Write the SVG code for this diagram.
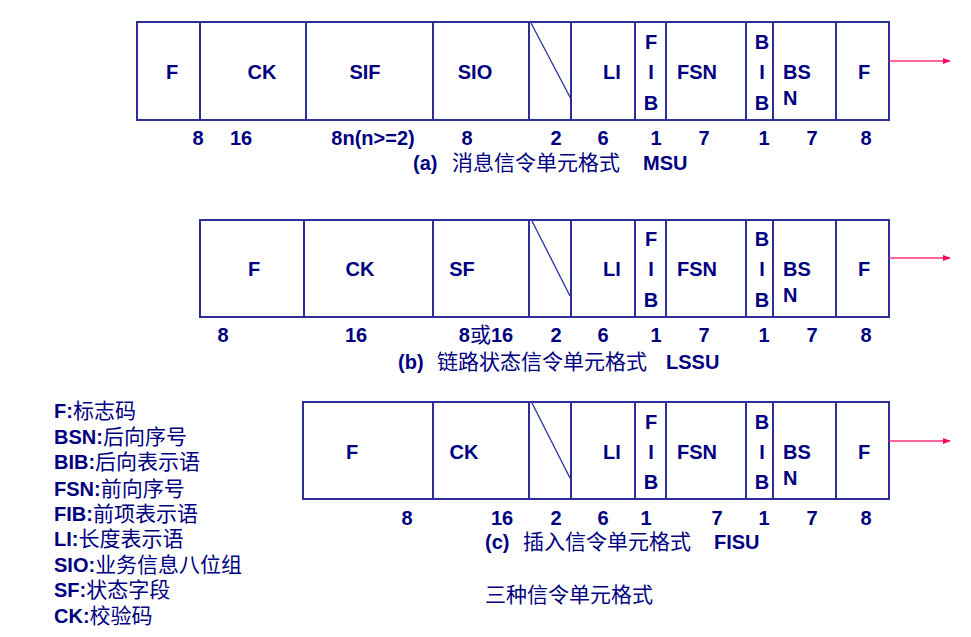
<svg xmlns="http://www.w3.org/2000/svg" width="971" height="637" viewBox="0 0 971 637">
<style>
.bg{fill:#ffffff}
.cell{fill:#ffffff;stroke:#2e2e9a;stroke-width:2}
.sl{stroke:#2e2e9a;stroke-width:1.3;fill:none}
.t{font-family:"Liberation Sans",Arial,sans-serif;font-weight:bold;font-size:20px;fill:#000080}
.m{text-anchor:middle}
.c{font-family:"Noto Sans CJK SC","Noto Sans CJK JP",sans-serif;font-weight:normal;font-size:21px;fill:#000080}
.arr{stroke:#ff3380;stroke-width:1.5;fill:none}
</style>
<defs>
<marker id="ah" viewBox="0 0 10 10" refX="9" refY="5" markerWidth="8" markerHeight="8" markerUnits="userSpaceOnUse" orient="auto">
<path d="M0,1 L10,5 L0,9 z" fill="#ff0066"/>
</marker>
</defs>
<rect class="bg" x="0" y="0" width="971" height="637"/>

<!-- (a) MSU -->
<g id="msu">
<rect class="cell" x="137" y="22" width="63" height="98"/>
<rect class="cell" x="200" y="22" width="106" height="98"/>
<rect class="cell" x="306" y="22" width="127" height="98"/>
<rect class="cell" x="433" y="22" width="96" height="98"/>
<rect class="cell" x="529" y="22" width="42" height="98"/>
<rect class="cell" x="571" y="22" width="64" height="98"/>
<rect class="cell" x="635" y="22" width="31" height="98"/>
<rect class="cell" x="666" y="22" width="80" height="98"/>
<rect class="cell" x="746" y="22" width="27" height="98"/>
<rect class="cell" x="773" y="22" width="63" height="98"/>
<rect class="cell" x="836" y="22" width="53" height="98"/>
<line class="sl" x1="531" y1="23" x2="571" y2="99"/>
<text class="t m" x="172" y="79">F</text>
<text class="t m" x="262" y="79">CK</text>
<text class="t m" x="365" y="79">SIF</text>
<text class="t m" x="475" y="79">SIO</text>
<text class="t m" x="612" y="79">LI</text>
<text class="t m" x="651" y="49">F</text>
<text class="t m" x="651" y="79">I</text>
<text class="t m" x="651" y="110">B</text>
<text class="t m" x="697" y="79">FSN</text>
<text class="t m" x="762" y="49">B</text>
<text class="t m" x="762" y="79">I</text>
<text class="t m" x="762" y="110">B</text>
<text class="t" x="783" y="79">BS</text>
<text class="t" x="783" y="105">N</text>
<text class="t m" x="864" y="79">F</text>
<text class="t m" x="198" y="145">8</text>
<text class="t m" x="241" y="145">16</text>
<text class="t m" x="373" y="145">8n(n&gt;=2)</text>
<text class="t m" x="467" y="145">8</text>
<text class="t m" x="556" y="145">2</text>
<text class="t m" x="603" y="145">6</text>
<text class="t m" x="656" y="145">1</text>
<text class="t m" x="704" y="145">7</text>
<text class="t m" x="764" y="145">1</text>
<text class="t m" x="812" y="145">7</text>
<text class="t m" x="866" y="145">8</text>
<text x="413" y="170"><tspan class="t">(a)</tspan><tspan class="c" x="452">消息信令单元格式</tspan><tspan class="t" x="643">MSU</tspan></text>
</g>

<!-- (b) LSSU -->
<g id="lssu">
<rect class="cell" x="200" y="220" width="104" height="97"/>
<rect class="cell" x="304" y="220" width="129" height="97"/>
<rect class="cell" x="433" y="220" width="96" height="97"/>
<rect class="cell" x="529" y="220" width="42" height="97"/>
<rect class="cell" x="571" y="220" width="64" height="97"/>
<rect class="cell" x="635" y="220" width="31" height="97"/>
<rect class="cell" x="666" y="220" width="80" height="97"/>
<rect class="cell" x="746" y="220" width="27" height="97"/>
<rect class="cell" x="773" y="220" width="63" height="97"/>
<rect class="cell" x="836" y="220" width="53" height="97"/>
<line class="sl" x1="532" y1="221" x2="570" y2="296"/>
<text class="t m" x="254" y="276">F</text>
<text class="t m" x="360" y="276">CK</text>
<text class="t m" x="462" y="276">SF</text>
<text class="t m" x="612" y="276">LI</text>
<text class="t m" x="651" y="246">F</text>
<text class="t m" x="651" y="276">I</text>
<text class="t m" x="651" y="307">B</text>
<text class="t m" x="697" y="276">FSN</text>
<text class="t m" x="762" y="246">B</text>
<text class="t m" x="762" y="276">I</text>
<text class="t m" x="762" y="307">B</text>
<text class="t" x="783" y="276">BS</text>
<text class="t" x="783" y="302">N</text>
<text class="t m" x="864" y="276">F</text>
<text class="t m" x="223" y="342">8</text>
<text class="t m" x="356" y="342">16</text>
<text x="486" y="342" class="m"><tspan class="t">8</tspan><tspan class="c">或</tspan><tspan class="t">16</tspan></text>
<text class="t m" x="556" y="342">2</text>
<text class="t m" x="603" y="342">6</text>
<text class="t m" x="656" y="342">1</text>
<text class="t m" x="704" y="342">7</text>
<text class="t m" x="764" y="342">1</text>
<text class="t m" x="812" y="342">7</text>
<text class="t m" x="866" y="342">8</text>
<text x="398" y="369"><tspan class="t">(b)</tspan><tspan class="c" x="437">链路状态信令单元格式</tspan><tspan class="t" x="666">LSSU</tspan></text>
</g>

<!-- (c) FISU -->
<g id="fisu">
<rect class="cell" x="303" y="402" width="130" height="97"/>
<rect class="cell" x="433" y="402" width="96" height="97"/>
<rect class="cell" x="529" y="402" width="42" height="97"/>
<rect class="cell" x="571" y="402" width="64" height="97"/>
<rect class="cell" x="635" y="402" width="31" height="97"/>
<rect class="cell" x="666" y="402" width="80" height="97"/>
<rect class="cell" x="746" y="402" width="27" height="97"/>
<rect class="cell" x="773" y="402" width="63" height="97"/>
<rect class="cell" x="836" y="402" width="53" height="97"/>
<line class="sl" x1="532" y1="403" x2="570" y2="478"/>
<text class="t m" x="352" y="459">F</text>
<text class="t m" x="464" y="459">CK</text>
<text class="t m" x="612" y="459">LI</text>
<text class="t m" x="651" y="429">F</text>
<text class="t m" x="651" y="459">I</text>
<text class="t m" x="651" y="489">B</text>
<text class="t m" x="697" y="459">FSN</text>
<text class="t m" x="762" y="429">B</text>
<text class="t m" x="762" y="459">I</text>
<text class="t m" x="762" y="489">B</text>
<text class="t" x="783" y="459">BS</text>
<text class="t" x="783" y="485">N</text>
<text class="t m" x="864" y="459">F</text>
<text class="t m" x="407" y="525">8</text>
<text class="t m" x="502" y="525">16</text>
<text class="t m" x="556" y="525">2</text>
<text class="t m" x="603" y="525">6</text>
<text class="t m" x="646" y="525">1</text>
<text class="t m" x="717" y="525">7</text>
<text class="t m" x="764" y="525">1</text>
<text class="t m" x="812" y="525">7</text>
<text class="t m" x="866" y="525">8</text>
<text x="485" y="549"><tspan class="t">(c)</tspan><tspan class="c" x="523">插入信令单元格式</tspan><tspan class="t" x="714">FISU</tspan></text>
</g>

<g id="connectors">
<line class="arr" x1="889" y1="61" x2="950" y2="61" marker-end="url(#ah)"/>
<line class="arr" x1="889" y1="258" x2="950" y2="258" marker-end="url(#ah)"/>
<line class="arr" x1="889" y1="441" x2="950" y2="441" marker-end="url(#ah)"/>
</g>

<text class="c" x="485" y="602">三种信令单元格式</text>

<g id="legend">
<text x="54" y="418"><tspan class="t">F:</tspan><tspan class="c">标志码</tspan></text>
<text x="54" y="444"><tspan class="t">BSN:</tspan><tspan class="c">后向序号</tspan></text>
<text x="54" y="469"><tspan class="t">BIB:</tspan><tspan class="c">后向表示语</tspan></text>
<text x="54" y="496"><tspan class="t">FSN:</tspan><tspan class="c">前向序号</tspan></text>
<text x="54" y="521"><tspan class="t">FIB:</tspan><tspan class="c">前项表示语</tspan></text>
<text x="54" y="546"><tspan class="t">LI:</tspan><tspan class="c">长度表示语</tspan></text>
<text x="54" y="572"><tspan class="t">SIO:</tspan><tspan class="c">业务信息八位组</tspan></text>
<text x="54" y="597"><tspan class="t">SF:</tspan><tspan class="c">状态字段</tspan></text>
<text x="54" y="623"><tspan class="t">CK:</tspan><tspan class="c">校验码</tspan></text>
</g>
</svg>
